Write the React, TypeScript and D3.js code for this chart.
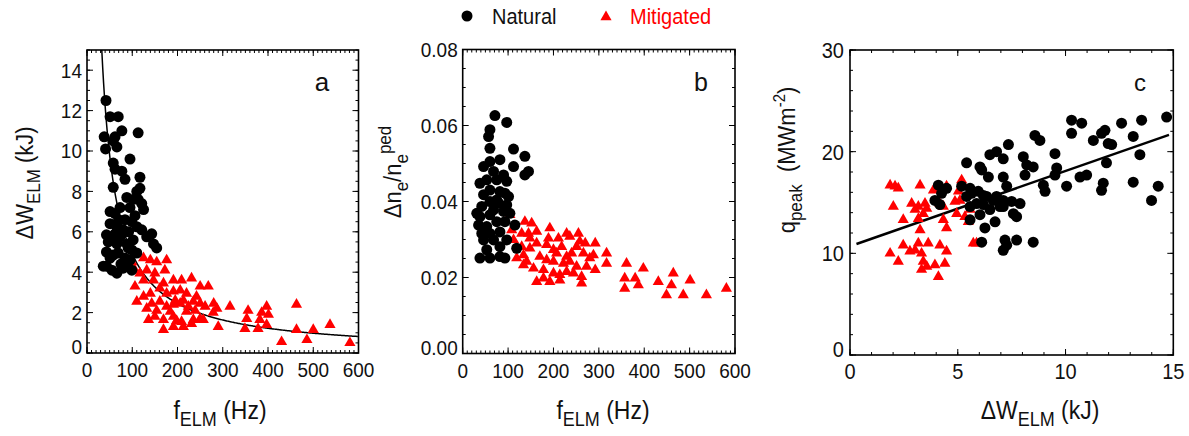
import React from "react";
import * as d3 from "d3";

// ---------- DATA ----------
// Panel a: f_ELM (Hz) vs ΔW_ELM (kJ)
const aNatural: [number, number][] = [
  [42, 12.5], [51, 11.7], [69, 11.7], [113, 10.9], [38, 10.7], [62, 10.7], [77, 11.0], [41, 10.1],
  [66, 10.2], [58, 10.5], [95, 9.6], [58, 9.4], [62, 9.1], [77, 9.0], [84, 8.6], [117, 8.7],
  [58, 8.2], [110, 8.0], [117, 8.15], [88, 7.7], [102, 7.6], [113, 7.6], [121, 7.4], [125, 7.1],
  [51, 7.0], [62, 6.9], [73, 7.2], [84, 6.6], [51, 6.4], [66, 6.25], [80, 6.1], [99, 6.5],
  [110, 6.25], [121, 6.1], [132, 5.75], [143, 5.9], [147, 5.4], [154, 5.2], [43, 5.85], [58, 5.6],
  [73, 5.75], [88, 5.4], [102, 5.6], [99, 5.1], [43, 5.0], [58, 4.85], [69, 4.95], [84, 4.7],
  [95, 4.6], [110, 4.95], [43, 4.3], [55, 4.1], [66, 3.95], [80, 4.2], [88, 4.45], [99, 4.1],
  [36, 4.3], [47, 5.5], [66, 5.4], [51, 4.7], [91, 5.2], [70, 6.6], [77, 5.9], [92, 6.0],
  [106, 6.8], [95, 7.2], [62, 5.9], [75, 4.4],
];
const aMitigated: [number, number][] = [
  [99, 4.5], [106, 4.1], [125, 4.7], [140, 4.6], [154, 4.5], [176, 4.6], [117, 3.95], [132, 4.1],
  [106, 3.3], [125, 3.6], [150, 3.95], [172, 4.1], [191, 3.6], [209, 3.6], [231, 3.7], [250, 3.3],
  [268, 3.3], [110, 2.55], [125, 2.8], [140, 2.95], [161, 3.2], [176, 2.95], [191, 3.05], [206, 3.1],
  [220, 2.95], [242, 2.8], [132, 2.2], [143, 2.45], [161, 2.55], [176, 2.3], [191, 2.4], [206, 2.45],
  [224, 2.3], [250, 2.45], [261, 2.3], [136, 1.65], [150, 1.8], [169, 1.65], [191, 1.8], [209, 1.55],
  [235, 1.65], [250, 1.7], [279, 2.0], [287, 2.2], [169, 1.15], [191, 1.3], [213, 1.3], [231, 1.45],
  [257, 1.65], [290, 1.3], [316, 2.3], [353, 1.7], [356, 2.1], [349, 1.2], [378, 1.2], [382, 1.65],
  [386, 2.0], [397, 2.3], [401, 1.9], [397, 1.4], [430, 0.55], [463, 2.4], [463, 1.15], [486, 0.65],
  [500, 1.15], [537, 1.4], [581, 0.5], [147, 3.6], [169, 3.45], [213, 2.6], [235, 2.55], [154, 2.1],
  [184, 2.05], [220, 2.05], [195, 2.6], [239, 2.1], [198, 1.6], [280, 2.45],
];
// ΔW·f = constant fit (kJ·Hz)
const aFitConstant = 490;

// Panel b: f_ELM (Hz) vs Δn_e/n_e^ped
const bNatural: [number, number][] = [
  [71, 0.0626], [97, 0.0608], [57, 0.0571], [60, 0.0589], [60, 0.054], [112, 0.0538], [137, 0.0519],
  [112, 0.0492], [145, 0.0479], [137, 0.047], [46, 0.0492], [60, 0.0505], [82, 0.051], [68, 0.0479],
  [90, 0.047], [53, 0.0457], [75, 0.0457], [97, 0.0453], [38, 0.0448], [60, 0.043], [82, 0.0426],
  [46, 0.0418], [93, 0.0422], [60, 0.04], [75, 0.0404], [97, 0.0391], [42, 0.0387], [68, 0.0378],
  [90, 0.0374], [38, 0.036], [60, 0.0365], [104, 0.0369], [75, 0.0347], [93, 0.0347], [35, 0.0338],
  [53, 0.0334], [115, 0.0338], [60, 0.0316], [82, 0.032], [46, 0.0299], [68, 0.0299], [97, 0.0299],
  [53, 0.0273], [82, 0.0281], [119, 0.0277], [38, 0.0251], [60, 0.0251], [82, 0.0255], [93, 0.0251],
  [31, 0.0369], [42, 0.0316], [101, 0.0413], [79, 0.0396],
];
const bMitigated: [number, number][] = [
  [104, 0.0365], [108, 0.0325], [112, 0.0299], [137, 0.0347], [152, 0.0343], [130, 0.0316],
  [145, 0.0316], [163, 0.0321], [119, 0.0251], [134, 0.0259], [141, 0.0242], [130, 0.0281],
  [148, 0.0277], [163, 0.029], [163, 0.0189], [178, 0.0198], [192, 0.033], [211, 0.0303],
  [229, 0.0316], [236, 0.0308], [255, 0.0316], [258, 0.0295], [270, 0.029], [292, 0.029],
  [185, 0.0286], [200, 0.0273], [218, 0.0281], [240, 0.0264], [251, 0.0281], [266, 0.0264],
  [280, 0.0251], [288, 0.0259], [170, 0.0255], [185, 0.0246], [200, 0.0242], [222, 0.0237],
  [236, 0.0242], [251, 0.0229], [273, 0.0229], [292, 0.022], [178, 0.022], [200, 0.0211],
  [214, 0.0207], [229, 0.0215], [244, 0.0211], [262, 0.0202], [192, 0.0189], [214, 0.0193],
  [262, 0.0185], [317, 0.0264], [317, 0.0237], [361, 0.0237], [357, 0.0198], [357, 0.0171],
  [380, 0.0198], [387, 0.018], [398, 0.0224], [431, 0.0189], [460, 0.018], [464, 0.0211],
  [449, 0.0154], [486, 0.0154], [501, 0.0193], [537, 0.0154], [581, 0.0171], [148, 0.0303],
  [189, 0.0303], [207, 0.0264], [229, 0.0255], [156, 0.0224], [134, 0.0233],
];

// Panel c: ΔW_ELM (kJ) vs q_peak (MW m^-2)
const cNatural: [number, number][] = [
  [5.41, 18.9], [6.03, 18.5], [6.11, 18.2], [6.49, 19.7], [6.8, 20.0], [7.11, 19.3], [7.35, 20.7],
  [6.42, 17.5], [7.11, 17.5], [8.04, 19.5], [8.2, 18.7], [8.5, 18.5], [8.12, 17.7], [8.58, 21.6],
  [8.81, 21.1], [9.51, 19.8], [8.97, 16.7], [9.05, 16.1], [9.51, 17.7], [9.59, 18.4], [10.05, 16.6],
  [10.28, 21.8], [10.75, 22.8], [10.28, 23.1], [10.67, 17.5], [10.98, 17.7], [11.29, 21.1],
  [11.67, 21.8], [11.83, 22.1], [11.9, 18.9], [11.75, 16.9], [11.67, 16.2], [11.98, 20.8],
  [12.14, 20.7], [12.6, 22.8], [13.14, 21.5], [13.14, 17.0], [13.45, 19.7], [13.53, 23.1],
  [13.99, 15.2], [14.3, 16.6], [14.69, 23.4], [5.18, 16.6], [5.57, 16.4], [4.1, 16.7], [4.25, 15.9],
  [3.94, 15.2], [4.17, 14.8], [4.48, 16.4], [5.41, 15.6], [5.64, 15.9], [5.95, 16.1], [6.19, 15.7],
  [6.34, 15.6], [6.65, 15.2], [6.8, 15.6], [7.11, 15.2], [5.57, 14.6], [5.87, 14.9], [6.19, 14.8],
  [6.49, 14.3], [6.96, 14.6], [7.11, 14.6], [7.5, 15.1], [7.58, 13.9], [7.73, 13.6], [7.89, 14.9],
  [6.03, 13.8], [6.73, 13.1], [6.26, 12.5], [6.11, 11.1], [7.19, 11.3], [7.27, 10.8], [7.11, 10.3],
  [7.73, 11.3], [8.5, 11.1], [5.57, 13.3], [7.27, 16.6],
];
const cMitigated: [number, number][] = [
  [1.86, 16.7], [2.09, 16.6], [2.24, 16.4], [2.01, 14.6], [2.47, 13.3], [2.86, 14.9], [3.02, 14.3],
  [3.25, 16.7], [3.17, 14.6], [3.4, 13.9], [3.48, 14.9], [3.56, 14.4], [3.87, 16.2], [4.17, 14.9],
  [4.33, 14.6], [4.48, 16.6], [3.25, 12.3], [3.17, 13.4], [4.33, 13.3], [4.48, 12.5], [5.03, 16.1],
  [5.1, 15.2], [5.18, 17.2], [4.95, 13.9], [5.33, 13.6], [5.49, 13.1], [5.57, 14.3], [5.72, 11.0],
  [5.87, 11.0], [4.87, 15.1], [1.86, 10.0], [2.24, 9.2], [2.47, 10.8], [2.78, 10.2], [3.02, 10.3],
  [3.17, 11.0], [3.32, 10.0], [3.63, 11.0], [3.4, 9.2], [3.32, 8.4], [3.56, 8.7], [3.94, 8.85],
  [4.1, 7.7], [4.17, 10.8], [4.48, 10.2], [4.4, 9.0],
];
// linear fit q = intercept + slope * ΔW, drawn over this ΔW range
const cFitIntercept = 10.7;
const cFitSlope = 0.74;
const cFitRange = [0.3, 14.8];

const legendLabels = ["Natural", "Mitigated"];

// ---------- STYLE ----------
const FONT = "'Liberation Sans', Arial, Helvetica, sans-serif";
const RED = "#ff0000";
const SY = 1.1;

type Box = { left: number; right: number; top: number; bottom: number };

function T(props: {
  x: number; y: number; size: number; anchor?: string; fill?: string; rotate?: number; sy?: number;
  children: React.ReactNode;
}) {
  const { x, y, size, anchor = "start", fill = "#111", rotate = 0, sy = SY, children } = props;
  return (
    <g transform={`translate(${x},${y}) rotate(${rotate}) scale(1,${sy})`}>
      <text x={0} y={0} fontSize={size} textAnchor={anchor} fill={fill} fontFamily={FONT}>
        {children}
      </text>
    </g>
  );
}

const triPath = d3.symbol().type(d3.symbolTriangle).size(54)() as string;

function Panel(props: {
  box: Box;
  xDomain: [number, number];
  yDomain: [number, number];
  xMajor: number[];
  xMinor: number[];
  yMajor: number[];
  yMinor: number[];
  xFmt: (v: number) => string;
  yFmt: (v: number) => string;
  tickSize: number;
  yLabelGap: number;
  natural: [number, number][];
  mitigated: [number, number][];
  fit: [number, number][];
  fitWidth: number;
  letter: string;
  letterX: number;
  letterSize: number;
}) {
  const { box: b } = props;
  const x = d3.scaleLinear().domain(props.xDomain).range([b.left, b.right]);
  const y = d3.scaleLinear().domain(props.yDomain).range([b.bottom, b.top]);
  const line = d3
    .line<[number, number]>()
    .x((d) => x(d[0]))
    .y((d) => y(d[1]));
  const MAJ = 6;
  const MIN = 3;
  const ticks: React.ReactNode[] = [];
  props.xMinor.forEach((v, i) => {
    const px = x(v);
    ticks.push(<line key={`xm${i}`} x1={px} x2={px} y1={b.bottom} y2={b.bottom - MIN} />);
    ticks.push(<line key={`xmt${i}`} x1={px} x2={px} y1={b.top} y2={b.top + MIN} />);
  });
  props.xMajor.forEach((v, i) => {
    const px = x(v);
    ticks.push(<line key={`xM${i}`} x1={px} x2={px} y1={b.bottom} y2={b.bottom - MAJ} />);
    ticks.push(<line key={`xMt${i}`} x1={px} x2={px} y1={b.top} y2={b.top + MAJ} />);
  });
  props.yMinor.forEach((v, i) => {
    const py = y(v);
    ticks.push(<line key={`ym${i}`} x1={b.left} x2={b.left + MIN} y1={py} y2={py} />);
    ticks.push(<line key={`ymr${i}`} x1={b.right} x2={b.right - MIN} y1={py} y2={py} />);
  });
  props.yMajor.forEach((v, i) => {
    const py = y(v);
    ticks.push(<line key={`yM${i}`} x1={b.left} x2={b.left + MAJ} y1={py} y2={py} />);
    ticks.push(<line key={`yMr${i}`} x1={b.right} x2={b.right - MAJ} y1={py} y2={py} />);
  });
  const capHalf = (props.tickSize * 0.716 * SY) / 2;
  return (
    <g>
      <path d={line(props.fit) || ""} fill="none" stroke="#000" strokeWidth={props.fitWidth} />
      {props.mitigated.map((d, i) => (
        <path key={`m${i}`} d={triPath} transform={`translate(${x(d[0])},${y(d[1])})`} fill={RED} />
      ))}
      {props.natural.map((d, i) => (
        <circle key={`n${i}`} cx={x(d[0])} cy={y(d[1])} r={5.5} fill="#000" />
      ))}
      <g stroke="#000" strokeWidth={1}>{ticks}</g>
      <rect x={b.left} y={b.top} width={b.right - b.left} height={b.bottom - b.top} fill="none" stroke="#000" strokeWidth={1.6} />
      {props.xMajor.map((v, i) => (
        <T key={`xl${i}`} x={x(v)} y={b.bottom + 24} size={props.tickSize} anchor="middle">
          {props.xFmt(v)}
        </T>
      ))}
      {props.yMajor.map((v, i) => (
        <T key={`yl${i}`} x={b.left - props.yLabelGap} y={y(v) + capHalf - (i === 0 ? 6 : 0)} size={props.tickSize} anchor="end">
          {props.yFmt(v)}
        </T>
      ))}
      <T x={props.letterX} y={91} size={props.letterSize} anchor="middle" sy={1}>
        {props.letter}
      </T>
    </g>
  );
}

const boxA: Box = { left: 87, right: 358.5, top: 50, bottom: 353 };
const boxB: Box = { left: 462.7, right: 735, top: 49.5, bottom: 353.5 };
const boxC: Box = { left: 850, right: 1173.3, top: 50, bottom: 355 };

export default function App() {
  const fitA: [number, number][] = d3
    .range(aFitConstant / 15, 600.01, 2)
    .map((f) => [f, aFitConstant / f] as [number, number]);
  const fitC: [number, number][] = cFitRange.map((w) => [w, cFitIntercept + cFitSlope * w] as [number, number]);
  const fmtInt = (v: number) => d3.format("d")(v);
  const fmt2 = (v: number) => d3.format(".2f")(v);
  return (
    <svg width={1189} height={436} style={{ display: "block", position: "absolute", left: 0, top: 0, background: "#fff" }}>
      <rect x={0} y={0} width={1189} height={436} fill="#fff" />
      {/* Legend */}
      <circle cx={467} cy={16} r={5.5} fill="#000" />
      <T x={492} y={24} size={20}>{legendLabels[0]}</T>
      <path d={triPath} transform="translate(606,17)" fill={RED} />
      <T x={630} y={24} size={20} fill={RED}>{legendLabels[1]}</T>

      <Panel
        box={boxA}
        xDomain={[0, 600]}
        yDomain={[0, 15]}
        xMajor={d3.range(0, 601, 100)}
        xMinor={d3.range(0, 601, 10)}
        yMajor={d3.range(0, 15, 2)}
        yMinor={d3.range(0, 15.01, 0.5)}
        xFmt={fmtInt}
        yFmt={fmtInt}
        tickSize={19}
        yLabelGap={5}
        natural={aNatural}
        mitigated={aMitigated}
        fit={fitA}
        fitWidth={1.5}
        letter="a"
        letterX={322}
        letterSize={26}
      />
      <Panel
        box={boxB}
        xDomain={[0, 600]}
        yDomain={[0, 0.08]}
        xMajor={d3.range(0, 601, 100)}
        xMinor={d3.range(0, 601, 10)}
        yMajor={[0, 0.02, 0.04, 0.06, 0.08]}
        yMinor={d3.range(0, 16).map((i) => i * 0.005)}
        xFmt={fmtInt}
        yFmt={fmt2}
        tickSize={19}
        yLabelGap={5}
        natural={bNatural}
        mitigated={bMitigated}
        fit={[]}
        fitWidth={1.5}
        letter="b"
        letterX={701}
        letterSize={25}
      />
      <Panel
        box={boxC}
        xDomain={[0, 15]}
        yDomain={[0, 30]}
        xMajor={[0, 5, 10, 15]}
        xMinor={d3.range(0, 16, 1)}
        yMajor={[0, 10, 20, 30]}
        yMinor={d3.range(0, 31, 2)}
        xFmt={fmtInt}
        yFmt={fmtInt}
        tickSize={20}
        yLabelGap={6}
        natural={cNatural}
        mitigated={cMitigated}
        fit={fitC}
        fitWidth={2.5}
        letter="c"
        letterX={1140}
        letterSize={24}
      />

      {/* X titles */}
      <T x={220} y={419} size={23} anchor="middle">
        f<tspan fontSize={18} dy={6}>ELM</tspan>
        <tspan dy={-6}> (Hz)</tspan>
      </T>
      <T x={603} y={419} size={23} anchor="middle">
        f<tspan fontSize={18} dy={6}>ELM</tspan>
        <tspan dy={-6}> (Hz)</tspan>
      </T>
      <T x={1040} y={419} size={23} anchor="middle">
        ΔW<tspan fontSize={18} dy={6}>ELM</tspan>
        <tspan dy={-6}> (kJ)</tspan>
      </T>

      {/* Y titles */}
      <T x={33} y={183} size={22} anchor="middle" rotate={-90}>
        ΔW<tspan fontSize={17} dy={6}>ELM</tspan>
        <tspan dy={-6}> (kJ)</tspan>
      </T>
      <T x={401} y={172} size={22} anchor="middle" rotate={-90}>
        Δn<tspan fontSize={17} dy={6}>e</tspan>
        <tspan dy={-6}>/n</tspan>
        <tspan fontSize={17} dy={6}>e</tspan>
        <tspan fontSize={17} dy={-15}>ped</tspan>
      </T>
      <T x={795} y={160} size={22} anchor="middle" rotate={-90}>
        q<tspan fontSize={17} dy={6}>peak</tspan>
        <tspan dy={-6}>{"\u00a0\u00a0(MWm"}</tspan>
        <tspan fontSize={15} dy={-9}>-2</tspan>
        <tspan dy={9}>)</tspan>
      </T>
    </svg>
  );
}
